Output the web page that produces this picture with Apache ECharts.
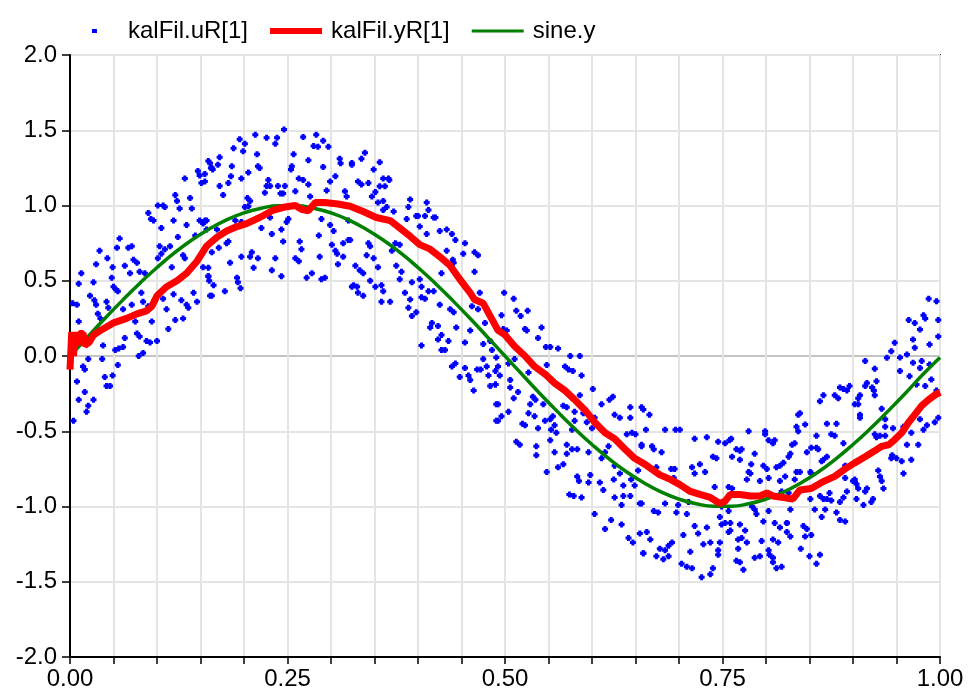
<!DOCTYPE html>
<html>
<head>
<meta charset="utf-8">
<script src="https://cdn.jsdelivr.net/npm/echarts@6/dist/echarts.min.js"></script>
<style>html,body{margin:0;padding:0;background:#fff}#c{width:968px;height:695px}</style>
</head>
<body>
<div id="c"></div>
<script>
// ---------- data ----------
const seriesNames = ['kalFil.uR[1]', 'kalFil.yR[1]', 'sine.y'];
const xTickValues = [0, 0.25, 0.5, 0.75, 1];
const xTickLabels = ['0.00', '0.25', '0.50', '0.75', '1.00'];
const yTickLabels = ['-2.0', '-1.5', '-1.0', '-0.5', '0.0', '0.5', '1.0', '1.5', '2.0'];

const sineX = [0,0.02,0.04,0.06,0.08,0.1,0.12,0.14,0.16,0.18,0.2,0.22,0.24,0.26,0.28,0.3,0.32,0.34,0.36,0.38,0.4,0.42,0.44,0.46,0.48,0.5,0.52,0.54,0.56,0.58,0.6,0.62,0.64,0.66,0.68,0.7,0.72,0.74,0.76,0.78,0.8,0.82,0.84,0.86,0.88,0.9,0.92,0.94,0.96,0.98,1.0];
const sineY = [0,0.125,0.249,0.368,0.482,0.588,0.685,0.771,0.844,0.905,0.951,0.982,0.998,0.998,0.982,0.951,0.905,0.844,0.771,0.685,0.588,0.482,0.368,0.249,0.125,0,-0.125,-0.249,-0.368,-0.482,-0.588,-0.685,-0.771,-0.844,-0.905,-0.951,-0.982,-0.998,-0.998,-0.982,-0.951,-0.905,-0.844,-0.771,-0.685,-0.588,-0.482,-0.368,-0.249,-0.125,-0.01];

const yRPoints = [[0,-0.09],[0.002,0.16],[0.004,0.0],[0.006,0.16],[0.008,0.07],[0.011,0.15],[0.015,0.15],[0.017,0.07],[0.022,0.09],[0.027,0.14],[0.038,0.18],[0.05,0.22],[0.065,0.25],[0.077,0.28],[0.088,0.3],[0.094,0.33],[0.1,0.4],[0.111,0.46],[0.123,0.5],[0.134,0.55],[0.146,0.63],[0.157,0.73],[0.169,0.79],[0.18,0.83],[0.192,0.86],[0.203,0.88],[0.218,0.92],[0.234,0.97],[0.247,0.99],[0.259,1.0],[0.266,0.975],[0.274,0.965],[0.282,1.02],[0.293,1.02],[0.308,1.01],[0.322,0.995],[0.337,0.96],[0.352,0.92],[0.368,0.9],[0.379,0.85],[0.391,0.795],[0.402,0.74],[0.414,0.71],[0.425,0.66],[0.437,0.6],[0.448,0.51],[0.46,0.42],[0.465,0.375],[0.475,0.35],[0.483,0.265],[0.492,0.17],[0.5,0.14],[0.511,0.065],[0.523,0.0],[0.534,-0.07],[0.546,-0.12],[0.557,-0.18],[0.569,-0.23],[0.58,-0.29],[0.592,-0.36],[0.603,-0.44],[0.615,-0.51],[0.626,-0.55],[0.638,-0.62],[0.649,-0.68],[0.661,-0.72],[0.667,-0.745],[0.678,-0.79],[0.69,-0.82],[0.701,-0.855],[0.713,-0.9],[0.724,-0.92],[0.736,-0.94],[0.747,-0.98],[0.753,-0.965],[0.759,-0.92],[0.77,-0.92],[0.782,-0.93],[0.793,-0.93],[0.801,-0.91],[0.808,-0.93],[0.82,-0.94],[0.831,-0.95],[0.839,-0.89],[0.852,-0.88],[0.864,-0.84],[0.879,-0.8],[0.891,-0.75],[0.902,-0.71],[0.914,-0.67],[0.925,-0.63],[0.933,-0.6],[0.941,-0.59],[0.948,-0.555],[0.956,-0.51],[0.964,-0.44],[0.971,-0.39],[0.979,-0.33],[0.987,-0.29],[0.994,-0.26],[1.0,-0.24]];

const uRPoints = [
[0.003,0.35],[0.01,0.48],[0.013,0.55],[0.008,0.34],[0.01,0.23],[0.021,0.12],[0.021,-0.02],[0.015,-0.07],[0.017,-0.09],[0.008,-0.17],[0.01,-0.29],[0.017,-0.24],[0.004,-0.43],[0.019,-0.37],[0.021,-0.33],[0.027,-0.29],[0.023,0.4],[0.028,0.37],[0.03,0.34],[0.027,0.49],[0.03,0.61],[0.034,0.7],[0.032,0.28],[0.035,0.25],[0.031,0.18],[0.038,0.07],[0.037,-0.02],[0.04,-0.14],[0.042,-0.2],[0.046,-0.2],[0.049,-0.13],[0.043,0.65],[0.042,0.36],[0.044,0.32],[0.049,0.59],[0.048,0.52],[0.054,0.72],[0.057,0.78],[0.05,0.46],[0.053,0.44],[0.055,-0.06],[0.052,0.04],[0.056,0.05],[0.061,0.06],[0.055,0.43],[0.061,0.31],[0.063,0.12],[0.063,0.6],[0.067,0.72],[0.071,0.73],[0.069,0.55],[0.073,0.64],[0.077,0.62],[0.071,0.34],[0.073,0.27],[0.075,0.23],[0.077,0.15],[0.08,0.13],[0.084,0.02],[0.079,0.0],[0.08,0.56],[0.086,0.55],[0.082,0.42],[0.084,0.36],[0.09,0.33],[0.088,0.1],[0.092,0.09],[0.094,0.23],[0.09,0.95],[0.096,0.9],[0.093,0.91],[0.1,0.1],[0.101,1.0],[0.105,0.85],[0.103,0.73],[0.107,1.0],[0.109,0.99],[0.105,0.68],[0.101,0.65],[0.109,0.71],[0.107,0.38],[0.111,0.31],[0.113,0.18],[0.115,0.73],[0.119,0.9],[0.117,0.59],[0.121,1.07],[0.123,1.03],[0.119,0.41],[0.121,0.24],[0.126,0.98],[0.124,0.79],[0.13,0.67],[0.128,0.37],[0.13,0.25],[0.132,1.18],[0.134,0.87],[0.132,0.65],[0.134,0.34],[0.136,0.32],[0.138,1.05],[0.14,0.98],[0.144,0.8],[0.142,0.42],[0.146,0.36],[0.147,1.23],[0.149,1.2],[0.151,1.15],[0.149,0.9],[0.153,0.88],[0.157,0.9],[0.155,1.16],[0.161,1.28],[0.163,1.25],[0.153,0.59],[0.159,0.53],[0.161,0.4],[0.16,0.5],
[0.159,1.295],[0.162,1.25],[0.164,1.24],[0.155,1.21],[0.172,1.32],[0.17,1.27],[0.172,1.13],[0.176,1.07],[0.182,1.15],[0.185,1.195],[0.186,1.26],[0.188,1.38],[0.195,1.44],[0.201,1.41],[0.199,1.36],[0.213,1.47],[0.215,1.34],[0.205,1.22],[0.197,1.18],[0.216,1.26],[0.218,1.25],[0.226,1.45],[0.236,1.41],[0.238,1.45],[0.246,1.505],[0.228,1.17],[0.226,1.13],[0.224,1.085],[0.23,1.13],[0.239,1.13],[0.247,1.13],[0.245,1.08],[0.242,1.08],[0.257,1.34],[0.255,1.26],[0.254,1.24],[0.259,1.095],[0.263,1.18],[0.268,1.455],[0.268,1.17],[0.274,1.14],[0.274,1.3],[0.283,1.47],[0.28,1.395],[0.285,1.39],[0.291,1.43],[0.297,1.39],[0.276,1.06],[0.291,1.255],[0.299,1.16],[0.305,1.195],[0.295,1.1],[0.31,1.31],[0.311,1.28],[0.324,1.27],[0.316,1.095],[0.318,1.06],[0.204,1.05],[0.207,1.03],[0.201,0.99],[0.155,0.9],[0.157,0.84],[0.169,0.84],[0.171,0.72],[0.163,0.69],[0.182,0.76],[0.18,0.75],[0.184,0.62],[0.19,0.9],[0.197,0.89],[0.159,0.586],[0.159,0.53],[0.165,0.47],[0.163,0.4],[0.178,0.43],[0.192,0.52],[0.193,0.49],[0.196,0.45],[0.197,0.66],[0.207,0.66],[0.209,0.69],[0.216,0.65],[0.211,0.586],[0.205,0.995],[0.22,0.85],[0.23,0.92],[0.232,0.81],[0.236,0.65],[0.232,0.57],[0.243,0.53],[0.245,0.76],[0.243,0.84],[0.251,0.91],[0.249,0.89],[0.259,0.65],[0.263,0.63],[0.264,0.76],[0.266,0.71],[0.272,0.52],[0.278,0.55],[0.287,0.66],[0.286,0.8],[0.289,0.91],[0.289,0.51],[0.293,0.52],[0.299,0.87],[0.303,0.83],[0.301,0.74],[0.305,0.7],[0.307,0.68],[0.308,0.61],[0.314,0.75],[0.314,0.66],[0.32,0.77],[0.324,0.46],[0.32,0.9],
[0.324,1.283],[0.339,1.35],[0.335,1.31],[0.356,1.288],[0.349,1.24],[0.331,1.16],[0.335,1.14],[0.343,1.15],[0.36,1.18],[0.366,1.18],[0.367,1.17],[0.362,1.128],[0.356,1.128],[0.351,1.09],[0.347,1.06],[0.354,1.02],[0.36,1.03],[0.364,0.99],[0.36,0.97],[0.372,0.96],[0.391,1.04],[0.389,0.99],[0.398,0.93],[0.4,0.93],[0.41,1.02],[0.412,0.97],[0.418,0.92],[0.42,0.92],[0.408,0.93],[0.387,0.91],[0.402,0.86],[0.41,0.81],[0.425,0.83],[0.433,0.84],[0.439,0.81],[0.443,0.77],[0.454,0.75],[0.452,0.68],[0.465,0.69],[0.469,0.67],[0.465,0.56],[0.433,0.7],[0.44,0.64],[0.441,0.62],[0.427,0.55],[0.322,0.77],[0.343,0.75],[0.345,0.73],[0.341,0.67],[0.349,0.65],[0.328,0.6],[0.333,0.57],[0.337,0.55],[0.326,0.47],[0.33,0.46],[0.331,0.42],[0.337,0.4],[0.345,0.5],[0.351,0.46],[0.358,0.47],[0.36,0.43],[0.358,0.36],[0.368,0.36],[0.354,0.59],[0.37,0.7],[0.374,0.75],[0.379,0.74],[0.375,0.6],[0.381,0.56],[0.379,0.51],[0.385,0.42],[0.391,0.375],[0.389,0.32],[0.393,0.265],[0.398,0.29],[0.393,0.49],[0.402,0.51],[0.404,0.39],[0.408,0.38],[0.412,0.43],[0.418,0.43],[0.404,0.46],[0.425,0.34],[0.416,0.22],[0.414,0.19],[0.423,0.2],[0.427,0.14],[0.423,0.11],[0.435,0.1],[0.431,0.04],[0.427,0.04],[0.404,0.07],[0.437,0.31],[0.441,0.29],[0.444,0.19],[0.454,0.09],[0.46,0.17],[0.462,0.33],[0.469,0.31],[0.471,0.42],[0.439,-0.07],[0.443,-0.05],[0.454,-0.08],[0.448,-0.14],[0.46,-0.16],[0.458,-0.13],[0.464,-0.23],[0.468,-0.09],[0.472,-0.09],[0.475,-0.02],[0.479,-0.07],[0.481,-0.13],[0.483,-0.2],[0.489,-0.19],[0.489,-0.1],[0.492,-0.07],[0.49,-0.32],[0.49,-0.43],[0.483,0.1],[0.485,0.04],[0.475,0.08],[0.477,0.22],
[0.499,0.42],[0.51,0.38],[0.513,0.3],[0.518,0.265],[0.526,0.3],[0.496,0.27],[0.498,0.18],[0.502,0.17],[0.523,0.18],[0.525,0.17],[0.542,0.19],[0.538,0.12],[0.547,0.06],[0.552,0.06],[0.561,0.05],[0.548,-0.06],[0.49,-0.01],[0.504,-0.05],[0.511,-0.02],[0.494,-0.13],[0.506,-0.16],[0.489,-0.19],[0.506,-0.21],[0.515,-0.24],[0.51,-0.28],[0.492,-0.32],[0.496,-0.4],[0.492,-0.43],[0.504,-0.37],[0.527,-0.11],[0.532,-0.27],[0.535,-0.29],[0.529,-0.32],[0.527,-0.38],[0.534,-0.4],[0.52,-0.45],[0.523,-0.46],[0.538,-0.48],[0.544,-0.32],[0.546,-0.43],[0.552,-0.42],[0.557,-0.46],[0.553,-0.49],[0.555,-0.4],[0.513,-0.57],[0.517,-0.59],[0.536,-0.6],[0.536,-0.66],[0.548,-0.77],[0.552,-0.56],[0.557,-0.64],[0.559,-0.51],[0.569,-0.07],[0.573,-0.09],[0.578,-0.1],[0.575,0.0],[0.586,0.0],[0.588,-0.13],[0.567,-0.33],[0.571,-0.34],[0.58,-0.37],[0.58,-0.43],[0.586,-0.26],[0.59,-0.38],[0.577,-0.49],[0.577,-0.62],[0.571,-0.65],[0.561,-0.74],[0.567,-0.72],[0.583,-0.8],[0.585,-0.83],[0.574,-0.92],[0.579,-0.93],[0.588,-0.94],[0.598,-0.79],[0.596,-0.84],[0.594,-0.44],[0.6,-0.48],[0.603,-0.41],[0.601,-0.22],[0.611,-0.32],[0.62,-0.29],[0.624,-0.27],[0.626,-0.39],[0.632,-0.41],[0.619,-0.6],[0.615,-0.64],[0.611,-0.68],[0.596,-0.64],[0.609,-0.84],[0.613,-0.89],[0.625,-0.82],[0.626,-0.94],[0.634,-0.99],[0.636,-0.93],[0.644,-0.93],[0.603,-1.05],[0.615,-1.15],[0.622,-1.09],[0.634,-1.12],[0.642,-1.21],[0.647,-1.24],[0.655,-1.18],[0.659,-1.31],[0.64,-0.52],[0.646,-0.51],[0.65,-0.52],[0.657,-0.59],[0.644,-0.34],[0.644,-0.41],[0.657,-0.34],[0.632,-0.78],[0.636,-0.86],[0.645,-0.82],[0.649,-0.86],[0.655,-0.98],[0.653,-0.76],[0.626,-0.73],[0.571,-0.59],[0.583,-0.62],
[0.659,-0.355],[0.666,-0.39],[0.662,-0.49],[0.657,-0.6],[0.669,-0.6],[0.671,-0.62],[0.68,-0.64],[0.684,-0.49],[0.696,-0.49],[0.701,-0.49],[0.674,-0.74],[0.691,-0.75],[0.695,-0.75],[0.694,-0.81],[0.684,-0.98],[0.657,-0.98],[0.671,-1.03],[0.676,-1.04],[0.697,-1.04],[0.699,-0.99],[0.709,-1.05],[0.711,-0.97],[0.663,-1.17],[0.667,-1.22],[0.659,-1.31],[0.674,-1.33],[0.678,-1.28],[0.684,-1.29],[0.688,-1.26],[0.692,-1.24],[0.682,-1.35],[0.688,-1.33],[0.705,-1.19],[0.713,-1.3],[0.703,-1.38],[0.709,-1.4],[0.715,-1.41],[0.718,-1.13],[0.722,-1.18],[0.728,-1.25],[0.736,-1.24],[0.726,-1.47],[0.736,-1.45],[0.739,-1.41],[0.732,-1.14],[0.745,-1.29],[0.745,-1.32],[0.747,-1.24],[0.749,-1.12],[0.753,-1.11],[0.747,-1.07],[0.718,-0.55],[0.732,-0.54],[0.715,-0.74],[0.718,-0.78],[0.724,-0.72],[0.73,-0.77],[0.739,-0.67],[0.743,-0.68],[0.745,-0.57],[0.753,-0.58],[0.758,-0.56],[0.76,-0.55],[0.766,-0.62],[0.77,-0.63],[0.772,-0.62],[0.761,-0.67],[0.77,-0.69],[0.757,-0.87],[0.761,-0.88],[0.741,-0.87],[0.749,-1.0],[0.757,-1.03],[0.757,-1.17],[0.759,-1.16],[0.768,-1.22],[0.772,-1.21],[0.77,-1.12],[0.776,-1.16],[0.778,-1.24],[0.768,-1.28],[0.766,-1.36],[0.77,-1.37],[0.774,-1.42],[0.78,-0.5],[0.787,-0.65],[0.783,-0.72],[0.782,-0.78],[0.78,-0.77],[0.778,-0.82],[0.787,-1.02],[0.789,-1.05],[0.784,-1.0],[0.793,-0.83],[0.797,-1.1],[0.795,-1.23],[0.793,-1.33],[0.787,-1.34],[0.799,-0.5],[0.799,-0.52],[0.803,-0.56],[0.81,-0.56],[0.808,-0.58],[0.797,-0.73],[0.801,-0.75],[0.803,-0.81],[0.812,-0.74],[0.816,-0.73],[0.82,-0.71],[0.826,-0.67],[0.822,-0.8],[0.816,-0.83],[0.818,-0.9],[0.803,-1.03],[0.81,-1.11],[0.816,-1.14],[0.824,-1.11],[0.808,-1.22],[0.814,-1.24],[0.804,-1.32],[0.808,-1.34],[0.808,-1.37],[0.812,-1.41],[0.818,-1.4],[0.824,-1.17],[0.803,-1.29],[0.759,-1.11],
[0.987,0.38],[0.996,0.364],[0.981,0.27],[0.983,0.25],[0.964,0.24],[0.971,0.22],[0.977,0.176],[0.998,0.24],[0.969,0.11],[0.988,0.076],[0.998,0.13],[0.948,0.088],[0.944,0.032],[0.939,-0.012],[0.954,-0.01],[0.962,0.01],[0.971,0.054],[0.979,-0.034],[0.969,-0.045],[0.914,-0.034],[0.925,-0.085],[0.954,-0.1],[0.965,-0.134],[0.977,-0.08],[0.988,-0.056],[0.99,-0.156],[0.996,-0.23],[0.983,-0.2],[0.973,-0.19],[0.927,-0.168],[0.916,-0.18],[0.914,-0.2],[0.922,-0.21],[0.924,-0.23],[0.908,-0.26],[0.906,-0.28],[0.896,-0.2],[0.889,-0.22],[0.885,-0.21],[0.883,-0.28],[0.879,-0.26],[0.893,-0.23],[0.902,-0.32],[0.866,-0.26],[0.862,-0.3],[0.839,-0.38],[0.837,-0.39],[0.835,-0.47],[0.837,-0.5],[0.845,-0.455],[0.87,-0.45],[0.881,-0.45],[0.875,-0.52],[0.879,-0.53],[0.858,-0.53],[0.852,-0.61],[0.858,-0.61],[0.86,-0.62],[0.847,-0.64],[0.83,-0.59],[0.833,-0.58],[0.828,-0.65],[0.864,-0.7],[0.866,-0.69],[0.87,-0.67],[0.851,-0.77],[0.852,-0.78],[0.835,-0.77],[0.839,-0.77],[0.889,-0.58],[0.908,-0.39],[0.908,-0.41],[0.906,-0.32],[0.925,-0.26],[0.933,-0.35],[0.937,-0.42],[0.946,-0.48],[0.958,-0.47],[0.937,-0.47],[0.925,-0.52],[0.931,-0.53],[0.937,-0.53],[0.927,-0.54],[0.945,-0.66],[0.944,-0.68],[0.95,-0.68],[0.956,-0.7],[0.958,-0.78],[0.967,-0.69],[0.962,-0.59],[0.975,-0.59],[0.967,-0.51],[0.981,-0.49],[0.985,-0.46],[0.994,-0.44],[0.977,-0.42],[0.998,-0.41],[0.891,-0.81],[0.902,-0.82],[0.9,-0.83],[0.891,-0.73],[0.904,-0.85],[0.906,-0.88],[0.916,-0.88],[0.914,-0.9],[0.923,-0.95],[0.921,-0.97],[0.912,-0.99],[0.929,-0.76],[0.931,-0.8],[0.933,-0.83],[0.935,-0.88],[0.893,-0.9],[0.889,-0.94],[0.904,-0.95],[0.885,-0.97],[0.875,-0.96],[0.87,-0.95],[0.862,-0.93],[0.866,-0.95],[0.873,-0.91],[0.851,-0.95],[0.833,-0.82],[0.826,-0.91],[0.828,-1.02],[0.856,-1.02],[0.868,-1.02],[0.864,-1.07],[0.881,-1.04],[0.885,-1.09],[0.891,-1.1],[0.824,-1.11],[0.828,-1.2],[0.843,-1.13],[0.847,-1.15],[0.845,-1.2],[0.852,-1.19],[0.85,-1.33],[0.858,-1.38],[0.84,-1.28],[0.862,-1.32]
];

// ---------- chart ----------
const FONT = '"Liberation Sans", Arial, "DejaVu Sans", sans-serif';
const chart = echarts.init(document.getElementById('c'), null, {renderer: 'canvas'});
const sineData = sineX.map((x, i) => [x, sineY[i]]);
const ySplitColors = yTickLabels.map(l => l === '0.0' ? '#c4c4c4' : '#e4e4e4');

chart.setOption({
  animation: false,
  backgroundColor: '#ffffff',
  legend: {
    top: 14, left: 60,
    itemWidth: 58, itemHeight: 14, itemGap: 20,
    textStyle: {fontFamily: FONT, fontSize: 24, color: '#000'},
    data: [
      {name: seriesNames[0], icon: 'path://M0,0M27,5H32V9H27ZM58,14'},
      {name: seriesNames[1], icon: 'path://M0,0M2,4H54V10H2ZM58,14'},
      {name: seriesNames[2], icon: 'path://M0,0M2,5.5H54V8.5H2ZM58,14'}
    ]
  },
  grid: {left: 70, right: 28, top: 55, bottom: 38, show: true, borderColor: '#333', borderWidth: 2, backgroundColor: 'transparent'},
  xAxis: {
    type: 'value', min: 0, max: 1, interval: 0.05,
    axisLine: {show: true, onZero: false, lineStyle: {color: '#000', width: 2}},
    axisTick: {show: true, length: 7, lineStyle: {color: '#000', width: 1.5}},
    axisLabel: {
      margin: 10, fontFamily: FONT, fontSize: 24, color: '#000',
      formatter: v => { const i = xTickValues.findIndex(t => Math.abs(t - v) < 1e-6); return i >= 0 ? xTickLabels[i] : ''; }
    },
    splitLine: {show: true, lineStyle: {color: '#e4e4e4', width: 2}}
  },
  yAxis: {
    type: 'value', min: -2, max: 2, interval: 0.5,
    axisLine: {show: true, onZero: false, lineStyle: {color: '#000', width: 2}},
    axisTick: {show: true, length: 8, lineStyle: {color: '#000', width: 1.5}},
    axisLabel: {
      margin: 13, fontFamily: FONT, fontSize: 24, color: '#000',
      formatter: v => yTickLabels[Math.round((v + 2) / 0.5)]
    },
    splitLine: {show: true, lineStyle: {color: ySplitColors, width: 2}}
  },
  series: [
    {
      name: seriesNames[0], type: 'scatter', data: uRPoints,
      symbol: 'path://M1.5,0H4.5V1.5H6V4.5H4.5V6H1.5V4.5H0V1.5H1.5Z', symbolSize: 6,
      itemStyle: {color: '#0000ff', opacity: 1}, z: 2
    },
    {
      name: seriesNames[2], type: 'line', data: sineData, smooth: true,
      showSymbol: false, symbol: 'none',
      lineStyle: {color: '#008000', width: 3.5}, itemStyle: {color: '#008000'}, z: 3
    },
    {
      name: seriesNames[1], type: 'line', data: yRPoints,
      showSymbol: false, symbol: 'none',
      lineStyle: {color: '#ff0000', width: 7}, itemStyle: {color: '#ff0000'}, z: 4
    }
  ]
});
</script>
</body>
</html>
